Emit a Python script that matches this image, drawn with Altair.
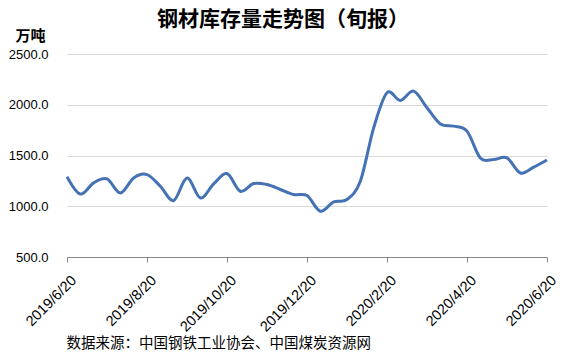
import altair as alt
import pandas as pd

dates = [
    "2019/6/20", "2019/6/30", "2019/7/10", "2019/7/20", "2019/7/31", "2019/8/10",
    "2019/8/20", "2019/8/31", "2019/9/10", "2019/9/20", "2019/9/30", "2019/10/10",
    "2019/10/20", "2019/10/31", "2019/11/10", "2019/11/20", "2019/11/30", "2019/12/10",
    "2019/12/20", "2019/12/31", "2020/1/10", "2020/1/20", "2020/1/31", "2020/2/10",
    "2020/2/20", "2020/2/29", "2020/3/10", "2020/3/20", "2020/3/31", "2020/4/10",
    "2020/4/20", "2020/4/30", "2020/5/10", "2020/5/20", "2020/5/31", "2020/6/10",
    "2020/6/20",
]
values = [
    1290, 1120, 1230, 1269, 1131, 1279, 1312, 1197, 1056, 1279, 1082, 1220,
    1322, 1148, 1224, 1214, 1165, 1115, 1105, 951, 1043, 1066, 1247, 1772,
    2118, 2042, 2134, 1970, 1811, 1789, 1740, 1476, 1460, 1476, 1328, 1385,
    1456,
]
tick_labels = ["2019/6/20", "2019/8/20", "2019/10/20", "2019/12/20",
               "2020/2/20", "2020/4/20", "2020/6/20"]

df = pd.DataFrame({"date": dates, "value": values})

font = "Liberation Sans"
cjk = "Noto Sans CJK SC"

chart = alt.Chart(df).mark_line(
    interpolate="cardinal", color="#4472B5", strokeWidth=3
).encode(
    x=alt.X("date:O", sort=dates,
            scale=alt.Scale(type="point", padding=0),
            axis=alt.Axis(
                values=tick_labels, labelAngle=-45, labelFont=font,
                labelFontSize=14.5, labelColor="#000000", labelAlign="right",
                labelBaseline="top", labelPadding=11, labelOffset=2,
                domainColor="#888888", tickColor="#888888", tickSize=5,
                grid=False,
                title="数据来源：中国钢铁工业协会、中国煤炭资源网",
                titleFont=cjk, titleFontSize=14.5, titleFontWeight="normal",
                titleColor="#000000", titleAnchor="start", titleAlign="left",
                titleBaseline="middle", titleX=-1, titleY=86, titleAngle=0)),
    y=alt.Y("value:Q",
            scale=alt.Scale(domain=[500, 2500], nice=False, zero=False),
            axis=alt.Axis(
                values=[500, 1000, 1500, 2000, 2500], format=".1f",
                labelFont=font, labelFontSize=13, labelColor="#000000",
                labelPadding=19, domain=False, ticks=False,
                gridColor="#d9d9d9", gridWidth=1.2,
                title="万吨", titleFont=cjk, titleFontSize=15,
                titleFontWeight="bold", titleColor="#000000", titleAngle=0,
                titleAlign="center", titleBaseline="middle",
                titleX=-37, titleY=-19)),
).properties(
    width=480, height=203,
    padding={"left": 67, "top": 54, "right": 16, "bottom": 97},
    autosize=alt.AutoSizeParams(type="none"),
    title=alt.TitleParams(
        "钢材库存量走势图（旬报）", font=cjk, fontSize=21, fontWeight="bold",
        color="#000000", anchor="middle", dx=-24, offset=-2),
).configure_view(stroke=None)

chart.save("out.html", embed_options={"renderer": "svg", "actions": False})
